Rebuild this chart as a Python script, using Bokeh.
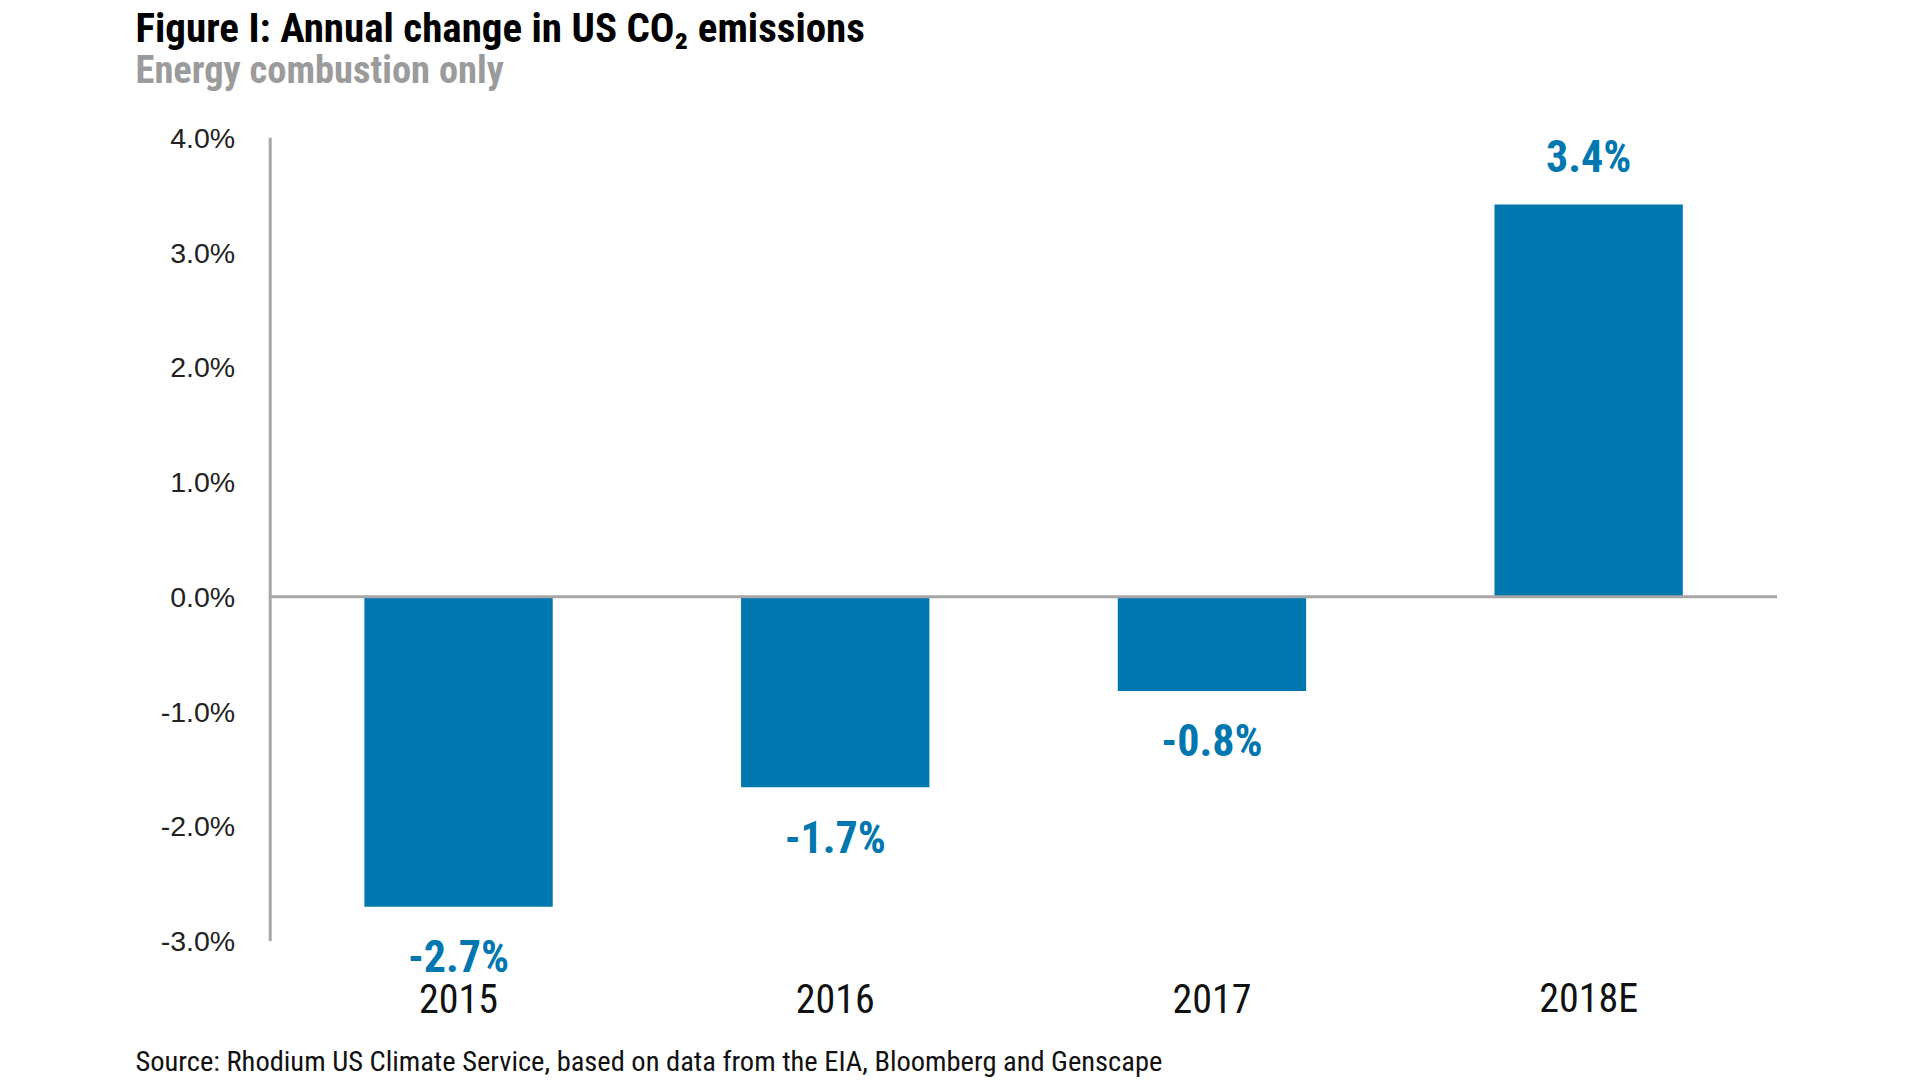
from bokeh.plotting import figure
from bokeh.models import Range1d, Label, ColumnDataSource
from bokeh.core.properties import value
from bokeh.embed import file_html
from bokeh.resources import INLINE

# ---- data ----
years = ["2015", "2016", "2017", "2018E"]
changes = [-2.70, -1.66, -0.82, 3.42]
value_labels = ["-2.7%", "-1.7%", "-0.8%", "3.4%"]
y_ticks = [-3, -2, -1, 0, 1, 2, 3, 4]
y_tick_labels = ["-3.0%", "-2.0%", "-1.0%", "0.0%", "1.0%", "2.0%", "3.0%", "4.0%"]

title_text = "Figure I: Annual change in US CO\u2082 emissions"
subtitle_text = "Energy combustion only"
source_text = "Source: Rhodium US Climate Service, based on data from the EIA, Bloomberg and Genscape"

# ---- style ----
BLUE = "#0077AE"
GREY_LINE = "#A6A6A6"
COND = "Roboto Condensed, Roboto, sans-serif"

xs = list(range(len(years)))

p = figure(width=1920, height=1080,
           x_range=Range1d(-1.216, 3.881), y_range=Range1d(-4.215, 5.197),
           output_backend="svg", toolbar_location=None,
           x_axis_location=None, y_axis_location=None, min_border=0)
p.outline_line_color = None
p.grid.visible = False
p.background_fill_color = "white"
p.border_fill_color = "white"

src = ColumnDataSource(dict(
    x=xs,
    year=years,
    change=changes,
    label=value_labels,
    label_y=[c - 0.44 if c < 0 else c + 0.41 for c in changes],
    year_y=[-3.5] * len(years),
))

# bars
p.vbar(x="x", top="change", bottom=0, width=0.5, source=src,
       fill_color=BLUE, line_color=None)

# axis line and zero line
axis_x = xs[0] - 0.5
p.segment(x0=axis_x, y0=min(y_ticks), x1=axis_x, y1=max(y_ticks),
          line_color=GREY_LINE, line_width=3)
p.segment(x0=axis_x, y0=0, x1=xs[-1] + 0.5, y1=0,
          line_color=GREY_LINE, line_width=3)

# y tick labels
p.text(x=[axis_x] * len(y_ticks), y=y_ticks, text=y_tick_labels,
       x_offset=-35, text_font=value("Liberation Sans"), text_font_size="28.5px",
       text_color="#222222", text_align="right", text_baseline="middle")

# value labels
p.text(x="x", y="label_y", text="label", source=src,
       text_font=value(COND), text_font_style="bold", text_font_size="44px",
       text_color=BLUE, text_align="center", text_baseline="middle")
# category labels
p.text(x="x", y="year_y", text="year", source=src,
       text_font=value(COND), text_font_size="40px",
       text_color="#111111", text_align="center", text_baseline="middle")

p.add_layout(Label(x=135, y=1053, x_units="screen", y_units="screen", text=title_text,
                   text_font=COND, text_font_style="bold", text_font_size="41px",
                   text_color="#000000", text_baseline="alphabetic"))
p.add_layout(Label(x=135, y=1011, x_units="screen", y_units="screen", text=subtitle_text,
                   text_font=COND, text_font_style="bold", text_font_size="38.5px",
                   text_color="#9B9B9B", text_baseline="alphabetic"))
p.add_layout(Label(x=135, y=19, x_units="screen", y_units="screen", text=source_text,
                   text_font=COND, text_font_size="28.5px",
                   text_color="#111111", text_baseline="alphabetic"))

open("out.html", "w").write(file_html(p, INLINE))
